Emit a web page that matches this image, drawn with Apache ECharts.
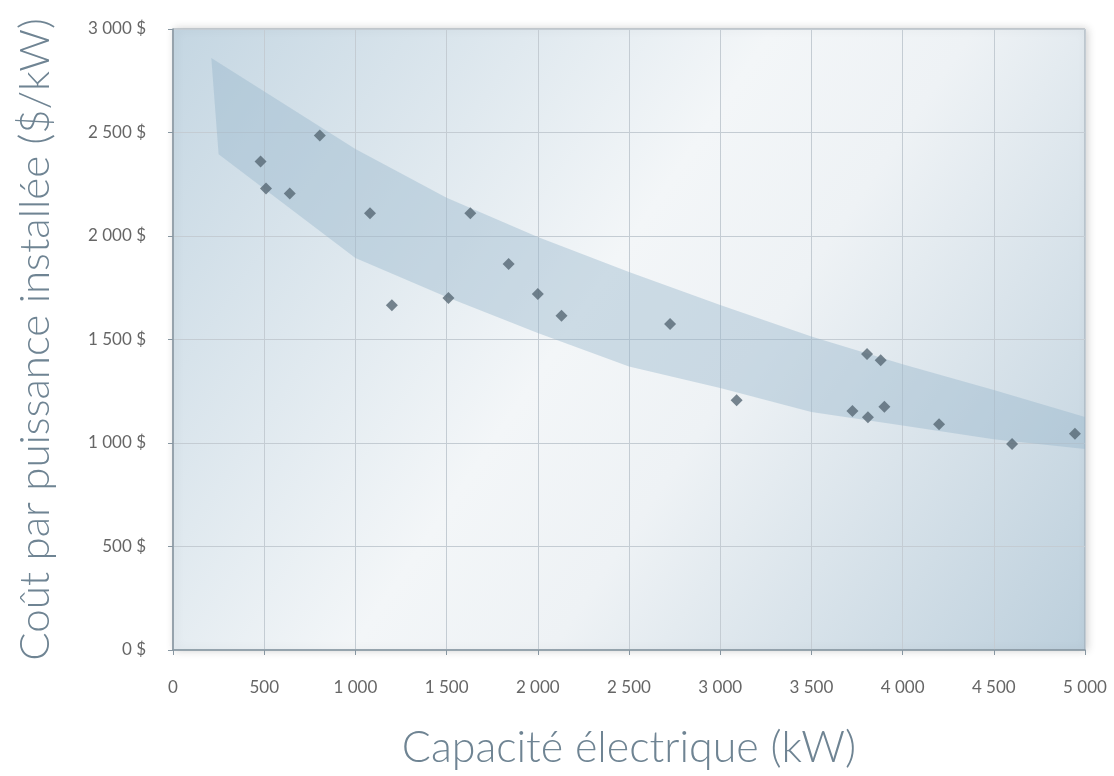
<!DOCTYPE html>
<html><head><meta charset="utf-8">
<script src="https://cdn.jsdelivr.net/npm/echarts@6/dist/echarts.min.js"></script>
<style>html,body{margin:0;padding:0;background:#fff;}#c{width:1114px;height:776px;}</style>
</head><body><div id="c"></div>
<script>
const capacityKW = [480, 510, 640, 805, 1080, 1200, 1510, 1630, 1840, 2000, 2130, 2725, 3090, 3725, 3805, 3810, 3880, 3900, 4200, 4600, 4945];
const costPerKW = [2360, 2230, 2205, 2485, 2110, 1665, 1700, 2110, 1865, 1720, 1615, 1575, 1207, 1155, 1430, 1125, 1400, 1175, 1090, 995, 1045];
const bandUpperX = [210, 1000, 1500, 2000, 2500, 3000, 3500, 4000, 4500, 5000];
const bandUpperY = [2860, 2420, 2185, 1995, 1826, 1667, 1515, 1380, 1256, 1126];
const bandLowerX = [250, 1000, 1500, 2000, 2500, 3000, 3500, 4000, 4500, 5000];
const bandLowerY = [2395, 1894, 1705, 1531, 1370, 1266, 1150, 1085, 1018, 971];
const xTicks = [0, 500, 1000, 1500, 2000, 2500, 3000, 3500, 4000, 4500, 5000];
const yTicks = [0, 500, 1000, 1500, 2000, 2500, 3000];

function fmt(v){ return String(v).replace(/\B(?=(\d{3})+(?!\d))/g, ' '); }

const bandPoly = [];
for (let i = 0; i < bandUpperX.length; i++) bandPoly.push([bandUpperX[i], bandUpperY[i]]);
for (let i = bandLowerX.length - 1; i >= 0; i--) bandPoly.push([bandLowerX[i], bandLowerY[i]]);

const chart = echarts.init(document.getElementById('c'));
chart.setOption({
  animation: false,
  backgroundColor: '#ffffff',
  grid: {
    left: 173, right: 29, top: 29, bottom: 126,
    containLabel: false,
    outerBoundsMode: 'none',
    show: true,
    borderColor: '#9aa7b1', borderWidth: 1,
    shadowColor: 'rgba(0,0,0,0.18)', shadowBlur: 8, shadowOffsetX: 2, shadowOffsetY: 0,
    backgroundColor: new echarts.graphic.LinearGradient(0, 0, 1, 1, [
      {offset: 0, color: '#c4d6e2'},
      {offset: 0.45, color: '#f3f6f8'},
      {offset: 0.6, color: '#eef2f5'},
      {offset: 1, color: '#bccfdc'}
    ])
  },
  xAxis: {
    type: 'value', min: 0, max: 5000, interval: 500,
    name: 'Capacité électrique (kW)', nameLocation: 'middle', nameGap: 77,
    nameTextStyle: {fontFamily: 'Lato', fontWeight: 300, fontSize: 43, color: '#6f8493'},
    axisLine: {show: true, lineStyle: {color: '#8796a1', width: 1.5}},
    axisTick: {show: true, length: 5, lineStyle: {color: '#8796a1'}},
    axisLabel: {formatter: v => fmt(v), fontFamily: 'Lato', fontSize: 17, color: '#666', margin: 29},
    splitLine: {show: true, lineStyle: {color: '#c4ccd3', width: 1}}
  },
  yAxis: {
    type: 'value', min: 0, max: 3000, interval: 500,
    name: 'Coût par puissance installée ($/kW)', nameLocation: 'middle', nameGap: 117,
    nameTextStyle: {fontFamily: 'Lato', fontWeight: 300, fontSize: 42, color: '#6f8493'},
    axisLine: {show: true, lineStyle: {color: '#8796a1', width: 1.5}},
    axisTick: {show: true, length: 5, lineStyle: {color: '#8796a1'}},
    axisLabel: {formatter: v => fmt(v) + ' $', fontFamily: 'Lato', fontSize: 17, color: '#666', margin: 27},
    splitLine: {show: true, lineStyle: {color: '#c4ccd3', width: 1}}
  },
  series: [
    {
      type: 'custom',
      silent: true,
      z: 1,
      renderItem: function (params, api) {
        const pts = bandPoly.map(p => api.coord(p));
        return {type: 'polygon', shape: {points: pts}, style: {fill: 'rgba(150,180,202,0.42)'}};
      },
      data: [0]
    },
    {
      type: 'scatter',
      z: 3,
      symbol: 'diamond',
      symbolSize: 12,
      itemStyle: {color: '#566874'},
      data: capacityKW.map((x, i) => [x, costPerKW[i]])
    }
  ]
});
</script></body></html>
